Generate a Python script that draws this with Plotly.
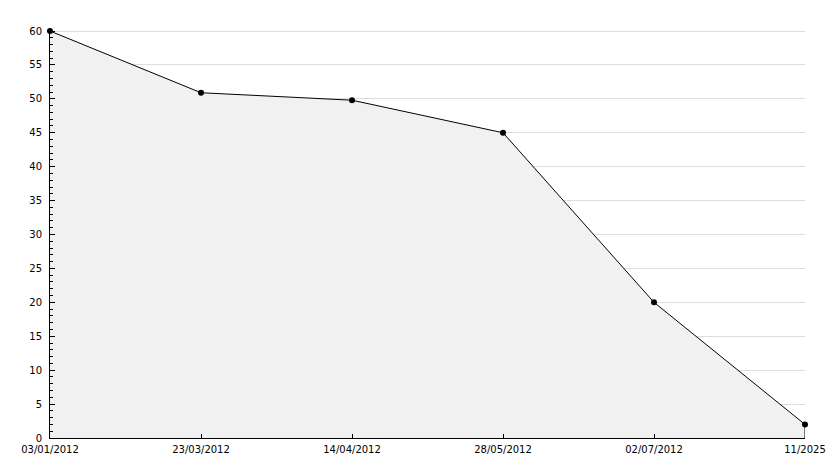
import plotly.graph_objects as go

dates = ["03/01/2012", "23/03/2012", "14/04/2012", "28/05/2012", "02/07/2012", "11/2025"]
values = [60, 50.9, 49.8, 45, 20, 2]

fig = go.Figure()
fig.add_trace(go.Scatter(
    x=dates, y=values, mode="lines+markers",
    fill="tozeroy", fillcolor="#f1f1f1",
    line=dict(color="black", width=1),
    marker=dict(color="black", size=6, symbol="circle"),
    hoverinfo="x+y", cliponaxis=False,
))
# right edge of filled area
fig.add_trace(go.Scatter(
    x=[dates[-1], dates[-1]], y=[0, values[-1]], mode="lines",
    line=dict(color="black", width=1), hoverinfo="skip", cliponaxis=False,
))

fig.update_layout(
    width=834, height=468,
    margin=dict(l=50, r=29, t=30, b=30, autoexpand=False),
    plot_bgcolor="white", paper_bgcolor="white",
    showlegend=False,
    font=dict(family="DejaVu Sans", size=10, color="black"),
)
fig.update_xaxes(
    type="category", range=[0, len(dates) - 1], automargin=False,
    showgrid=False, showline=True, linecolor="black", linewidth=1,
    ticks="inside", ticklen=4, tickcolor="black",
    tickfont=dict(size=10), zeroline=False, ticklabelstandoff=2,
)
fig.update_yaxes(
    range=[0, 60.15], dtick=5, tick0=0, automargin=False,
    showgrid=True, gridcolor="#dddddd", gridwidth=1,
    showline=True, linecolor="black", linewidth=1,
    ticks="inside", ticklen=5, tickcolor="black",
    minor=dict(dtick=1, ticks="inside", ticklen=3, tickcolor="black", showgrid=False),
    zeroline=False, tickfont=dict(size=10), ticklabelstandoff=5,
)

fig.write_html("out.html", config={"displayModeBar": False},
               post_script="document.body.style.margin='0';")
